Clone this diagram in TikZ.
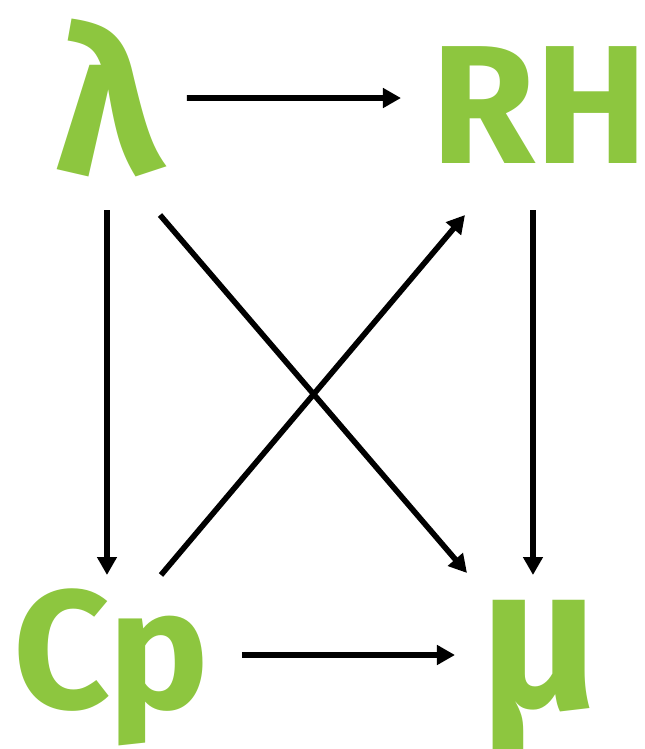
\documentclass[tikz,border=0pt]{standalone}
\usepackage{fontspec}
\newfontfamily\varfont{Fira Sans}
\usetikzlibrary{arrows.meta}
\definecolor{leafgreen}{RGB}{141,198,63}

\tikzset{
  var/.style={text=leafgreen,inner sep=0pt,
              font=\fontsize{48}{50}\varfont\bfseries},
  greek/.style={font=\fontsize{58}{60}\varfont\bfseries},
  toprow/.style={var,text height=1.5cm,text depth=0.16cm},
  botrow/.style={var,text height=1.3cm,text depth=0.24cm},
  arr/.style={-{Triangle[length=1.8mm,width=1.9mm]},line width=1.6pt}
}

\begin{document}
\begin{tikzpicture}
  \useasboundingbox (0,0) rectangle (6.45,7.49);
  \node[toprow,greek] (lam) at (1.09,6.43) {λ};
  \node[toprow] (rh) at (5.40,6.53) {RH};
  \node[botrow] (cp) at (1.11,0.94) {Cp};
  \node[botrow,greek] (mu) at (5.40,0.94) {μ};

  \draw[arr] ([shift={(0.78,0.08)}]lam.center) -- ([shift={(-1.39,-0.02)}]rh.center);
  \draw[arr] ([shift={(-0.02,-1.04)}]lam.center) -- ([shift={(-0.04,0.80)}]cp.center);
  \draw[arr] ([shift={(-0.07,-1.14)}]rh.center) -- ([shift={(-0.07,0.80)}]mu.center);
  \draw[arr] ([shift={(0.51,-1.09)}]lam.center) -- ([shift={(-0.73,0.82)}]mu.center);
  \draw[arr] ([shift={(0.50,0.80)}]cp.center) -- ([shift={(-0.75,-1.19)}]rh.center);
  \draw[arr] ([xshift=1.31cm]cp.center) -- ([xshift=-0.85cm]mu.center);
\end{tikzpicture}
\end{document}
